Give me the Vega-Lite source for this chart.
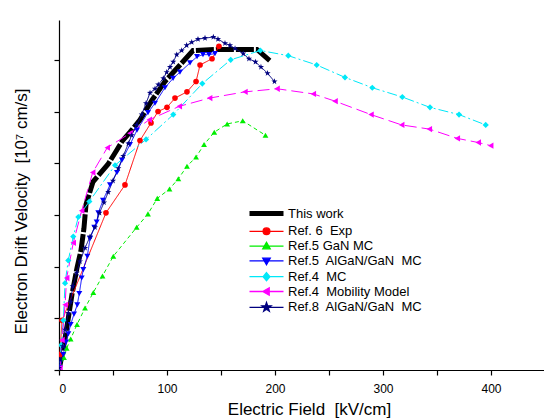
{
 "$schema": "https://vega.github.io/schema/vega-lite/v6.json",
 "width": 486, "height": 350,
 "autosize": {"type": "none"},
 "padding": {"left": 59, "top": 20, "right": 0, "bottom": 48},
 "background": "white",
 "config": {
  "view": {"stroke": null},
  "font": "Liberation Sans",
  "axis": {"domainColor": "black", "tickColor": "black", "labelColor": "black", "titleColor": "black", "grid": false, "labelFont": "Liberation Sans", "titleFont": "Liberation Sans", "titleFontWeight": "normal", "domainWidth": 1.2, "tickWidth": 1.2}
 },
 "data": {"values": [
  {"s":"This work","x":0,"y":0},{"s":"This work","x":3.7,"y":0.19},{"s":"This work","x":8.3,"y":0.48},{"s":"This work","x":12.0,"y":0.73},{"s":"This work","x":16.7,"y":0.99},{"s":"This work","x":20.4,"y":1.16},{"s":"This work","x":23.1,"y":1.37},{"s":"This work","x":25.0,"y":1.60},{"s":"This work","x":31.5,"y":1.82},{"s":"This work","x":45.4,"y":1.99},{"s":"This work","x":53.7,"y":2.13},{"s":"This work","x":58.3,"y":2.21},{"s":"This work","x":65.7,"y":2.30},{"s":"This work","x":75.0,"y":2.42},{"s":"This work","x":86.1,"y":2.61},{"s":"This work","x":98.1,"y":2.79},{"s":"This work","x":112.0,"y":2.95},{"s":"This work","x":124.1,"y":3.09},{"s":"This work","x":146.3,"y":3.10},{"s":"This work","x":164.8,"y":3.10},{"s":"This work","x":183.3,"y":3.10},{"s":"This work","x":195.4,"y":2.99},

  {"s":"Ref. 6\u00a0 Exp","x":0.9,"y":0.15},{"s":"Ref. 6\u00a0 Exp","x":2.8,"y":0.48},{"s":"Ref. 6\u00a0 Exp","x":43.5,"y":1.52},{"s":"Ref. 6\u00a0 Exp","x":61.1,"y":1.79},{"s":"Ref. 6\u00a0 Exp","x":75.0,"y":2.22},{"s":"Ref. 6\u00a0 Exp","x":85.2,"y":2.39},{"s":"Ref. 6\u00a0 Exp","x":91.7,"y":2.50},{"s":"Ref. 6\u00a0 Exp","x":100.0,"y":2.54},{"s":"Ref. 6\u00a0 Exp","x":107.4,"y":2.63},{"s":"Ref. 6\u00a0 Exp","x":118.5,"y":2.69},{"s":"Ref. 6\u00a0 Exp","x":126.9,"y":2.79},{"s":"Ref. 6\u00a0 Exp","x":130.6,"y":2.95},{"s":"Ref. 6\u00a0 Exp","x":141.7,"y":3.01},{"s":"Ref. 6\u00a0 Exp","x":148.1,"y":3.13},

  {"s":"Ref.5 GaN MC","x":0.9,"y":0.02},{"s":"Ref.5 GaN MC","x":4.6,"y":0.12},{"s":"Ref.5 GaN MC","x":7.1,"y":0.21},{"s":"Ref.5 GaN MC","x":10.8,"y":0.30},{"s":"Ref.5 GaN MC","x":16.7,"y":0.44},{"s":"Ref.5 GaN MC","x":24.1,"y":0.60},{"s":"Ref.5 GaN MC","x":31.8,"y":0.75},{"s":"Ref.5 GaN MC","x":40.3,"y":0.91},{"s":"Ref.5 GaN MC","x":50.3,"y":1.10},{"s":"Ref.5 GaN MC","x":71.9,"y":1.38},{"s":"Ref.5 GaN MC","x":82.4,"y":1.51},{"s":"Ref.5 GaN MC","x":91.0,"y":1.66},{"s":"Ref.5 GaN MC","x":102.3,"y":1.75},{"s":"Ref.5 GaN MC","x":110.5,"y":1.85},{"s":"Ref.5 GaN MC","x":118.5,"y":1.97},{"s":"Ref.5 GaN MC","x":126.9,"y":2.06},{"s":"Ref.5 GaN MC","x":134.3,"y":2.18},{"s":"Ref.5 GaN MC","x":143.8,"y":2.30},{"s":"Ref.5 GaN MC","x":155.7,"y":2.38},{"s":"Ref.5 GaN MC","x":170.1,"y":2.41},{"s":"Ref.5 GaN MC","x":191.2,"y":2.27},

  {"s":"Ref.5\u00a0 AlGaN/GaN\u00a0 MC","x":0.9,"y":0.02},{"s":"Ref.5\u00a0 AlGaN/GaN\u00a0 MC","x":4.0,"y":0.15},{"s":"Ref.5\u00a0 AlGaN/GaN\u00a0 MC","x":6.5,"y":0.27},{"s":"Ref.5\u00a0 AlGaN/GaN\u00a0 MC","x":8.6,"y":0.35},{"s":"Ref.5\u00a0 AlGaN/GaN\u00a0 MC","x":10.8,"y":0.44},{"s":"Ref.5\u00a0 AlGaN/GaN\u00a0 MC","x":13.9,"y":0.54},{"s":"Ref.5\u00a0 AlGaN/GaN\u00a0 MC","x":16.9,"y":0.63},{"s":"Ref.5\u00a0 AlGaN/GaN\u00a0 MC","x":18.8,"y":0.74},{"s":"Ref.5\u00a0 AlGaN/GaN\u00a0 MC","x":21.0,"y":0.89},{"s":"Ref.5\u00a0 AlGaN/GaN\u00a0 MC","x":22.5,"y":0.97},{"s":"Ref.5\u00a0 AlGaN/GaN\u00a0 MC","x":26.2,"y":1.10},{"s":"Ref.5\u00a0 AlGaN/GaN\u00a0 MC","x":28.7,"y":1.27},{"s":"Ref.5\u00a0 AlGaN/GaN\u00a0 MC","x":32.7,"y":1.38},{"s":"Ref.5\u00a0 AlGaN/GaN\u00a0 MC","x":34.9,"y":1.43},{"s":"Ref.5\u00a0 AlGaN/GaN\u00a0 MC","x":36.4,"y":1.52},{"s":"Ref.5\u00a0 AlGaN/GaN\u00a0 MC","x":40.7,"y":1.64},{"s":"Ref.5\u00a0 AlGaN/GaN\u00a0 MC","x":47.2,"y":1.79},{"s":"Ref.5\u00a0 AlGaN/GaN\u00a0 MC","x":53.7,"y":1.91},{"s":"Ref.5\u00a0 AlGaN/GaN\u00a0 MC","x":58.3,"y":2.03},{"s":"Ref.5\u00a0 AlGaN/GaN\u00a0 MC","x":65.7,"y":2.18},{"s":"Ref.5\u00a0 AlGaN/GaN\u00a0 MC","x":72.2,"y":2.32},{"s":"Ref.5\u00a0 AlGaN/GaN\u00a0 MC","x":82.4,"y":2.49},{"s":"Ref.5\u00a0 AlGaN/GaN\u00a0 MC","x":88.9,"y":2.58},{"s":"Ref.5\u00a0 AlGaN/GaN\u00a0 MC","x":98.1,"y":2.73},{"s":"Ref.5\u00a0 AlGaN/GaN\u00a0 MC","x":105.6,"y":2.82},{"s":"Ref.5\u00a0 AlGaN/GaN\u00a0 MC","x":112.0,"y":2.88},{"s":"Ref.5\u00a0 AlGaN/GaN\u00a0 MC","x":121.3,"y":2.97},{"s":"Ref.5\u00a0 AlGaN/GaN\u00a0 MC","x":127.8,"y":3.03},{"s":"Ref.5\u00a0 AlGaN/GaN\u00a0 MC","x":133.3,"y":3.05},{"s":"Ref.5\u00a0 AlGaN/GaN\u00a0 MC","x":138.9,"y":3.05},{"s":"Ref.5\u00a0 AlGaN/GaN\u00a0 MC","x":144.4,"y":3.06},

  {"s":"Ref.4\u00a0 MC","x":0,"y":0},{"s":"Ref.4\u00a0 MC","x":1.9,"y":0.24},{"s":"Ref.4\u00a0 MC","x":4.0,"y":0.48},{"s":"Ref.4\u00a0 MC","x":5.6,"y":0.84},{"s":"Ref.4\u00a0 MC","x":8.6,"y":1.06},{"s":"Ref.4\u00a0 MC","x":13.2,"y":1.29},{"s":"Ref.4\u00a0 MC","x":17.9,"y":1.48},{"s":"Ref.4\u00a0 MC","x":28.1,"y":1.63},{"s":"Ref.4\u00a0 MC","x":51.9,"y":1.98},{"s":"Ref.4\u00a0 MC","x":80.6,"y":2.23},{"s":"Ref.4\u00a0 MC","x":105.8,"y":2.47},{"s":"Ref.4\u00a0 MC","x":132.7,"y":2.77},{"s":"Ref.4\u00a0 MC","x":159.0,"y":3.00},{"s":"Ref.4\u00a0 MC","x":186.4,"y":3.09},{"s":"Ref.4\u00a0 MC","x":212.3,"y":3.04},{"s":"Ref.4\u00a0 MC","x":238.6,"y":2.95},{"s":"Ref.4\u00a0 MC","x":264.8,"y":2.83},{"s":"Ref.4\u00a0 MC","x":290.1,"y":2.73},{"s":"Ref.4\u00a0 MC","x":317.9,"y":2.64},{"s":"Ref.4\u00a0 MC","x":343.5,"y":2.54},{"s":"Ref.4\u00a0 MC","x":370.4,"y":2.47},{"s":"Ref.4\u00a0 MC","x":395.1,"y":2.37},

  {"s":"Ref.4\u00a0 Mobility Model","x":0.9,"y":0.02},{"s":"Ref.4\u00a0 Mobility Model","x":2.8,"y":0.29},{"s":"Ref.4\u00a0 Mobility Model","x":5.6,"y":0.63},{"s":"Ref.4\u00a0 Mobility Model","x":7.1,"y":0.89},{"s":"Ref.4\u00a0 Mobility Model","x":13.2,"y":1.23},{"s":"Ref.4\u00a0 Mobility Model","x":21.0,"y":1.54},{"s":"Ref.4\u00a0 Mobility Model","x":31.2,"y":1.91},{"s":"Ref.4\u00a0 Mobility Model","x":44.7,"y":2.15},{"s":"Ref.4\u00a0 Mobility Model","x":65.7,"y":2.29},{"s":"Ref.4\u00a0 Mobility Model","x":83.6,"y":2.42},{"s":"Ref.4\u00a0 Mobility Model","x":111.4,"y":2.55},{"s":"Ref.4\u00a0 Mobility Model","x":139.5,"y":2.63},{"s":"Ref.4\u00a0 Mobility Model","x":172.2,"y":2.69},{"s":"Ref.4\u00a0 Mobility Model","x":201.9,"y":2.72},{"s":"Ref.4\u00a0 Mobility Model","x":235.5,"y":2.67},{"s":"Ref.4\u00a0 Mobility Model","x":255.6,"y":2.60},{"s":"Ref.4\u00a0 Mobility Model","x":288.9,"y":2.47},{"s":"Ref.4\u00a0 Mobility Model","x":317.3,"y":2.37},{"s":"Ref.4\u00a0 Mobility Model","x":342.9,"y":2.33},{"s":"Ref.4\u00a0 Mobility Model","x":368.8,"y":2.24},{"s":"Ref.4\u00a0 Mobility Model","x":388.2,"y":2.20},{"s":"Ref.4\u00a0 Mobility Model","x":399.7,"y":2.17},

  {"s":"Ref.8\u00a0 AlGaN/GaN\u00a0 MC","x":0,"y":0.02},{"s":"Ref.8\u00a0 AlGaN/GaN\u00a0 MC","x":0.9,"y":0.10},{"s":"Ref.8\u00a0 AlGaN/GaN\u00a0 MC","x":3.4,"y":0.23},{"s":"Ref.8\u00a0 AlGaN/GaN\u00a0 MC","x":5.6,"y":0.39},{"s":"Ref.8\u00a0 AlGaN/GaN\u00a0 MC","x":8.6,"y":0.55},{"s":"Ref.8\u00a0 AlGaN/GaN\u00a0 MC","x":10.8,"y":0.66},{"s":"Ref.8\u00a0 AlGaN/GaN\u00a0 MC","x":12.7,"y":0.81},{"s":"Ref.8\u00a0 AlGaN/GaN\u00a0 MC","x":16.4,"y":0.94},{"s":"Ref.8\u00a0 AlGaN/GaN\u00a0 MC","x":19.4,"y":1.05},{"s":"Ref.8\u00a0 AlGaN/GaN\u00a0 MC","x":24.1,"y":1.18},{"s":"Ref.8\u00a0 AlGaN/GaN\u00a0 MC","x":28.7,"y":1.29},{"s":"Ref.8\u00a0 AlGaN/GaN\u00a0 MC","x":33.3,"y":1.38},{"s":"Ref.8\u00a0 AlGaN/GaN\u00a0 MC","x":37.5,"y":1.52},{"s":"Ref.8\u00a0 AlGaN/GaN\u00a0 MC","x":41.7,"y":1.62},{"s":"Ref.8\u00a0 AlGaN/GaN\u00a0 MC","x":45.6,"y":1.72},{"s":"Ref.8\u00a0 AlGaN/GaN\u00a0 MC","x":50.0,"y":1.83},{"s":"Ref.8\u00a0 AlGaN/GaN\u00a0 MC","x":54.9,"y":1.95},{"s":"Ref.8\u00a0 AlGaN/GaN\u00a0 MC","x":59.5,"y":2.07},{"s":"Ref.8\u00a0 AlGaN/GaN\u00a0 MC","x":64.2,"y":2.19},{"s":"Ref.8\u00a0 AlGaN/GaN\u00a0 MC","x":67.3,"y":2.27},{"s":"Ref.8\u00a0 AlGaN/GaN\u00a0 MC","x":71.9,"y":2.37},{"s":"Ref.8\u00a0 AlGaN/GaN\u00a0 MC","x":76.6,"y":2.47},{"s":"Ref.8\u00a0 AlGaN/GaN\u00a0 MC","x":80.6,"y":2.58},{"s":"Ref.8\u00a0 AlGaN/GaN\u00a0 MC","x":84.3,"y":2.68},{"s":"Ref.8\u00a0 AlGaN/GaN\u00a0 MC","x":88.9,"y":2.72},{"s":"Ref.8\u00a0 AlGaN/GaN\u00a0 MC","x":91.9,"y":2.76},{"s":"Ref.8\u00a0 AlGaN/GaN\u00a0 MC","x":96.6,"y":2.82},{"s":"Ref.8\u00a0 AlGaN/GaN\u00a0 MC","x":99.7,"y":2.88},{"s":"Ref.8\u00a0 AlGaN/GaN\u00a0 MC","x":102.8,"y":2.93},{"s":"Ref.8\u00a0 AlGaN/GaN\u00a0 MC","x":105.8,"y":2.98},{"s":"Ref.8\u00a0 AlGaN/GaN\u00a0 MC","x":109.0,"y":3.05},{"s":"Ref.8\u00a0 AlGaN/GaN\u00a0 MC","x":113.6,"y":3.09},{"s":"Ref.8\u00a0 AlGaN/GaN\u00a0 MC","x":118.2,"y":3.14},{"s":"Ref.8\u00a0 AlGaN/GaN\u00a0 MC","x":122.9,"y":3.17},{"s":"Ref.8\u00a0 AlGaN/GaN\u00a0 MC","x":128.7,"y":3.20},{"s":"Ref.8\u00a0 AlGaN/GaN\u00a0 MC","x":135.2,"y":3.21},{"s":"Ref.8\u00a0 AlGaN/GaN\u00a0 MC","x":142.9,"y":3.22},{"s":"Ref.8\u00a0 AlGaN/GaN\u00a0 MC","x":147.2,"y":3.20},{"s":"Ref.8\u00a0 AlGaN/GaN\u00a0 MC","x":153.7,"y":3.16},{"s":"Ref.8\u00a0 AlGaN/GaN\u00a0 MC","x":158.3,"y":3.14},{"s":"Ref.8\u00a0 AlGaN/GaN\u00a0 MC","x":163.0,"y":3.11},{"s":"Ref.8\u00a0 AlGaN/GaN\u00a0 MC","x":170.6,"y":3.06},{"s":"Ref.8\u00a0 AlGaN/GaN\u00a0 MC","x":175.9,"y":3.01},{"s":"Ref.8\u00a0 AlGaN/GaN\u00a0 MC","x":181.9,"y":2.98},{"s":"Ref.8\u00a0 AlGaN/GaN\u00a0 MC","x":187.0,"y":2.93},{"s":"Ref.8\u00a0 AlGaN/GaN\u00a0 MC","x":193.1,"y":2.87},{"s":"Ref.8\u00a0 AlGaN/GaN\u00a0 MC","x":199.5,"y":2.79}
 ]},
 "layer": [
  {
   "mark": {"type": "line", "clip": true},
   "encoding": {
    "x": {"field": "x", "type": "quantitative", "scale": {"domain": [0, 450], "nice": false},
      "axis": {"values": [0,50,100,150,200,250,300,350,400,450], "labelExpr": "datum.value % 100 === 0 ? datum.label : ''", "tickSize": 5, "labelFontSize": 12, "labelPadding": 8, "title": "Electric Field\u00a0 [kV/cm]", "titleFontSize": 17, "titleX": 250, "titleY": 44, "titleBaseline": "alphabetic", "titleAlign": "center", "titleAnchor": "middle",
        "encode": {"ticks": {"update": {"y2": {"signal": "datum.value % 100 === 0 ? 5 : 3"}}}}}},
    "y": {"field": "y", "type": "quantitative", "scale": {"domain": [0, 3.385], "nice": false, "zero": false},
      "axis": {"values": [0,0.5,1,1.5,2,2.5,3], "labels": false, "tickSize": 5, "title": "Electron Drift Velocity\u00a0 [10\u2077 cm/s]", "titleFontSize": 17, "titleAngle": -90, "titleX": -38, "titleY": 191, "titleAlign": "center", "titleBaseline": "middle"}},
    "color": {"field": "s", "type": "nominal",
      "scale": {"domain": ["This work","Ref. 6\u00a0 Exp","Ref.5 GaN MC","Ref.5\u00a0 AlGaN/GaN\u00a0 MC","Ref.4\u00a0 MC","Ref.4\u00a0 Mobility Model","Ref.8\u00a0 AlGaN/GaN\u00a0 MC"],
                "range": ["#000000","#ff0000","#00ee00","#0000ff","#00e8f8","#ff00ff","#00007f"]},
      "legend": {"orient": "none", "legendX": 201, "legendY": 187, "title": null, "padding": 0,
        "labelFont": "Liberation Sans", "labelFontSize": 13, "labelColor": "black", "labelOffset": 15,
        "symbolSize": 1156, "rowPadding": 0.8,
        "encode": {"symbols": {"update": {
          "shape": {"signal": "['M-1,0H1','M-1,0H1M0.2,0A0.2,0.2,0,1,1,-0.2,0A0.2,0.2,0,1,1,0.2,0Z','M-1,0H1M0,-0.22L0.22,0.16L-0.22,0.16Z','M-1,0H1M0,0.22L0.22,-0.16L-0.22,-0.16Z','M-1,0H1M0,-0.24L0.2,0L0,0.24L-0.2,0Z','M-1,0H1M-0.22,0L0.16,-0.22L0.16,0.22Z','M-1,0H1M0,-0.28L0.065,-0.089L0.266,-0.087L0.105,0.034L0.165,0.227L0,0.11L-0.165,0.227L-0.105,0.034L-0.266,-0.087L-0.065,-0.089Z'][datum.index]"},
          "strokeWidth": {"signal": "datum.index === 0 ? 5 : 1.3"},
          "fill": {"signal": "scale('color', datum.value)"},
          "stroke": {"signal": "scale('color', datum.value)"},
          "opacity": {"value": 1},
          "fillOpacity": {"value": 1},
          "strokeOpacity": {"value": 1}
        }}}}},
    "strokeDash": {"condition": [
        {"test": "datum.s === 'This work'", "value": [18, 2]},
        {"test": "datum.s === 'Ref.5 GaN MC'", "value": [4, 3]},
        {"test": "indexof(datum.s, 'Ref.4') === 0 && indexof(datum.s, 'Mobility') < 0", "value": [10, 3, 2, 3]},
        {"test": "indexof(datum.s, 'Mobility') >= 0", "value": [12, 5]}
      ], "value": [1, 0]},
    "strokeWidth": {"condition": {"test": "datum.s === 'This work'", "value": 5}, "value": 1}
   }
  },
  {
   "transform": [{"filter": "datum.s !== 'This work'"}],
   "mark": {"type": "point", "filled": true, "opacity": 1, "clip": true},
   "encoding": {
    "x": {"field": "x", "type": "quantitative"},
    "y": {"field": "y", "type": "quantitative",
      "axis": {"orient": "right", "values": [0,0.5,1,1.5,2,2.5,3], "labels": false, "title": null, "domain": false, "tickSize": 5,
        "encode": {"ticks": {"update": {"x2": {"signal": "datum.value % 1 === 0 ? -5 : -2"}}}}}},
    "color": {"field": "s", "type": "nominal", "legend": null},
    "shape": {"field": "s", "type": "nominal", "legend": null,
      "scale": {"domain": ["Ref. 6\u00a0 Exp","Ref.5 GaN MC","Ref.5\u00a0 AlGaN/GaN\u00a0 MC","Ref.4\u00a0 MC","Ref.4\u00a0 Mobility Model","Ref.8\u00a0 AlGaN/GaN\u00a0 MC"],
                "range": ["circle","triangle-up","triangle-down","diamond","triangle-left","M0,-1L0.235,-0.324L0.951,-0.309L0.38,0.124L0.588,0.809L0,0.4L-0.588,0.809L-0.38,0.124L-0.951,-0.309L-0.235,-0.324Z"]}},
    "size": {"field": "s", "type": "nominal", "legend": null,
      "scale": {"domain": ["Ref. 6\u00a0 Exp","Ref.5 GaN MC","Ref.5\u00a0 AlGaN/GaN\u00a0 MC","Ref.4\u00a0 MC","Ref.4\u00a0 Mobility Model","Ref.8\u00a0 AlGaN/GaN\u00a0 MC"],
                "range": [32, 42, 42, 40, 42, 170]}}
   }
  }
 ],
 "resolve": {"axis": {"y": "independent"}}
}
